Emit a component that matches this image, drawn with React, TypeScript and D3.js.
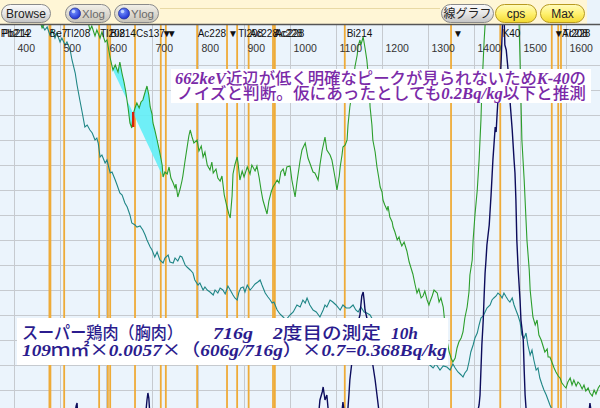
import React from 'react';
import * as d3 from 'd3';

// ---------- data ----------
const energyTicks = [400, 500, 600, 700, 800, 900, 1000, 1100, 1200, 1300, 1400, 1500, 1600];
const gridCounts = [25, 50, 75, 100, 125, 150, 175, 200, 225, 250, 275, 300, 325, 350];

// nuclide marker lines (keV)
const nuclideLineEnergies = [477, 508, 584, 603, 608, 662, 718, 729, 797, 862, 884, 909, 962, 966, 1118, 1349, 1456, 1568, 1582, 1588];
const thickLineEnergies = [477];

// labels in the nuclide row [text, keV]
const peakLabels: [string, number][] = [
  ['Pb214', 368], ['Pb212', 372], ['Be7', 474], ['Tl208', 508], ['Tl208', 584], ['Bi214', 606],
  ['Cs137', 662], ['▼', 718], ['▼', 729], ['Ac228', 796], ['▼', 862], ['Tl208', 884],
  ['Ac228', 909], ['Ac228', 962], ['Ac228', 966], ['Bi214', 1120], ['▼', 1351], ['K40', 1459],
  ['▼', 1570], ['Ac228', 1588], ['Tl208', 1590],
];

// sample spectrum (green) [keV, counts]
const sampleSpectrum: [number, number][] = [
  [451, 400], [460, 387], [468, 393], [477, 405], [555, 403], [560, 393], [564, 385], [568, 389],
  [575, 379], [579, 385], [586, 377], [590, 383], [597, 373], [601, 375], [603, 370], [608, 357],
  [614, 345], [619, 350], [625, 343], [629, 353], [634, 341], [638, 333], [642, 323], [647, 307],
  [651, 292], [655, 287], [658, 301], [662, 307], [666, 312], [671, 307], [675, 313], [679, 315],
  [684, 323], [688, 329], [692, 320], [695, 308], [699, 301], [701, 292], [705, 285], [710, 275],
  [716, 262], [721, 250], [723, 238], [727, 243], [732, 241], [736, 248], [740, 237], [745, 232],
  [749, 227], [751, 231], [755, 218], [760, 226], [764, 234], [766, 239], [771, 255], [775, 267],
  [779, 279], [782, 285], [786, 278], [790, 272], [797, 275], [801, 264], [806, 269], [810, 258],
  [814, 263], [819, 250], [825, 245], [829, 253], [832, 242], [838, 246], [842, 237], [847, 234],
  [851, 239], [856, 220], [862, 208], [866, 201], [869, 197], [873, 219], [875, 241], [879, 250],
  [884, 258], [886, 252], [890, 235], [895, 244], [899, 238], [906, 248], [912, 241], [916, 250],
  [923, 244], [927, 249], [932, 237], [936, 225], [940, 215], [945, 207], [949, 201], [953, 214],
  [958, 223], [962, 228], [966, 231], [971, 235], [975, 232], [979, 243], [984, 246], [988, 239],
  [992, 248], [999, 249], [1003, 235], [1010, 218], [1014, 233], [1021, 255], [1025, 265], [1032, 272],
  [1038, 257], [1042, 252], [1049, 243], [1053, 242], [1060, 235], [1064, 250], [1069, 265], [1075, 278],
  [1079, 265], [1086, 260], [1090, 255], [1097, 237], [1101, 225], [1106, 239], [1108, 248], [1112, 260],
  [1114, 268], [1119, 270], [1123, 275], [1125, 290], [1129, 308], [1134, 323], [1138, 337], [1140, 348],
  [1145, 360], [1147, 369], [1151, 375], [1153, 370], [1158, 378], [1162, 367], [1166, 355], [1171, 330],
  [1173, 308], [1177, 290], [1179, 275], [1184, 263], [1188, 248], [1192, 237], [1195, 228], [1199, 223],
  [1201, 215], [1205, 210], [1210, 205], [1212, 209], [1216, 198], [1221, 193], [1223, 188], [1227, 183],
  [1232, 175], [1236, 178], [1238, 174], [1242, 169], [1247, 173], [1253, 164], [1258, 153], [1262, 147],
  [1266, 141], [1271, 130], [1275, 122], [1279, 126], [1284, 117], [1288, 119], [1292, 124], [1297, 115],
  [1301, 110], [1303, 113], [1308, 119], [1312, 125], [1319, 122], [1323, 113], [1327, 117], [1332, 108],
  [1336, 90], [1340, 75], [1345, 63], [1349, 57], [1353, 53], [1358, 57], [1362, 67], [1366, 73],
  [1371, 77], [1375, 83], [1379, 97], [1384, 108], [1388, 123], [1390, 140], [1395, 155], [1397, 175],
  [1401, 200], [1406, 225], [1410, 255], [1414, 295], [1416, 325], [1419, 355], [1421, 375], [1423, 390],
  [1425, 410], [1495, 410], [1497, 390], [1499, 355], [1501, 315], [1503, 275], [1508, 235], [1512, 195],
  [1514, 175], [1519, 145], [1521, 125], [1525, 107], [1527, 98], [1532, 90], [1536, 95], [1540, 80],
  [1545, 75], [1549, 69], [1553, 63], [1558, 66], [1560, 58], [1564, 58], [1569, 52], [1573, 47],
  [1577, 43], [1582, 39], [1586, 37], [1590, 32], [1595, 29], [1599, 27], [1603, 33], [1608, 37],
  [1612, 30], [1616, 35], [1621, 29], [1625, 33], [1629, 31], [1634, 26], [1638, 30], [1642, 24],
  [1647, 27], [1651, 22], [1656, 19], [1660, 25], [1664, 21], [1669, 27], [1673, 30],
];

// first measurement (teal) [keV, counts]
const firstSpectrum: [number, number][] = [
  [451, 405], [460, 390], [466, 385], [471, 388], [477, 380], [482, 385], [488, 377], [492, 382],
  [499, 373], [503, 377], [510, 370], [514, 373], [521, 365], [525, 355], [532, 342], [536, 330],
  [542, 315], [547, 303], [553, 288], [558, 290], [564, 285], [569, 282], [575, 275], [579, 277],
  [582, 272], [586, 258], [590, 260], [597, 252], [601, 255], [608, 242], [612, 243], [619, 235],
  [623, 230], [629, 222], [634, 220], [640, 212], [645, 208], [651, 200], [655, 192], [662, 190],
  [666, 188], [673, 189], [679, 185], [684, 180], [688, 175], [695, 168], [699, 165], [705, 158],
  [710, 163], [716, 155], [723, 152], [727, 157], [734, 160], [738, 153], [745, 152], [749, 157],
  [755, 154], [760, 159], [764, 158], [771, 150], [775, 148], [782, 145], [788, 142], [792, 135],
  [799, 130], [803, 132], [810, 125], [814, 128], [819, 125], [825, 123], [832, 120], [836, 125],
  [842, 122], [847, 127], [853, 125], [858, 121], [864, 129], [869, 125], [875, 120], [879, 117],
  [884, 115], [888, 123], [892, 127], [897, 128], [901, 123], [906, 130], [912, 125], [916, 127],
  [923, 131], [929, 133], [934, 135], [938, 130], [945, 122], [951, 118], [956, 115], [960, 112],
  [964, 113], [971, 105], [977, 101], [984, 98], [990, 95], [999, 100], [1006, 103], [1014, 110],
  [1021, 108], [1027, 115], [1032, 112], [1036, 117], [1042, 110], [1049, 105], [1056, 103], [1064, 98],
  [1071, 105], [1075, 110], [1079, 108], [1086, 115], [1092, 113], [1099, 110], [1108, 105], [1114, 110],
  [1121, 107], [1129, 107], [1136, 110], [1142, 105], [1147, 103], [1153, 108], [1160, 103], [1166, 102],
  [1173, 100], [1179, 95], [1195, 85], [1216, 70], [1238, 60], [1260, 55], [1284, 55], [1303, 50],
  [1310, 47], [1316, 51], [1325, 45], [1332, 49], [1340, 48], [1347, 45], [1353, 51], [1358, 47],
  [1364, 43], [1371, 40], [1375, 38], [1379, 42], [1384, 45], [1388, 53], [1392, 63], [1397, 70],
  [1401, 77], [1406, 82], [1410, 90], [1414, 97], [1419, 99], [1423, 103], [1427, 107], [1434, 110],
  [1438, 115], [1442, 117], [1447, 119], [1451, 122], [1456, 120], [1460, 117], [1464, 122], [1469, 118],
  [1473, 115], [1477, 113], [1482, 117], [1486, 110], [1490, 105], [1495, 99], [1499, 93], [1503, 80],
  [1508, 77], [1512, 82], [1516, 70], [1521, 60], [1525, 65], [1529, 55], [1534, 45], [1538, 47],
  [1542, 37], [1547, 30], [1551, 25], [1556, 20], [1560, 15], [1564, 10], [1569, 5], [1577, 2], [1673, 2],
];

// difference / background spectrum (navy) [keV, counts]
const netSpectrum: [number, number][] = [
  [451, -5], [529, -5], [534, 9], [536, 12], [538, -5], [684, -5], [688, 15], [690, 22], [692, 17],
  [695, -5], [1060, -5], [1064, 15], [1069, 23], [1071, 28], [1075, 15], [1079, 20], [1084, -5],
  [1110, -5], [1114, 13], [1119, -5], [1123, -5], [1127, 20], [1129, 35], [1134, 55], [1138, 70],
  [1142, 80], [1147, 93], [1151, 100], [1153, 110], [1155, 119], [1158, 123], [1160, 115], [1162, 105],
  [1166, 97], [1171, 80], [1175, 65], [1179, 50], [1184, 35], [1188, 20], [1192, 5], [1195, -5],
  [1403, -5], [1410, 10], [1412, 20], [1414, 45], [1416, 70], [1419, 95], [1421, 120], [1423, 142],
  [1425, 155], [1427, 170], [1432, 190], [1436, 220], [1440, 255], [1445, 288], [1447, 283], [1449, 300],
  [1451, 315], [1456, 335], [1458, 355], [1460, 380], [1462, 405], [1464, 405], [1466, 370], [1469, 365],
  [1471, 355], [1473, 345], [1475, 330], [1477, 315], [1482, 285], [1486, 255], [1488, 242], [1490, 215],
  [1492, 175], [1495, 145], [1499, 115], [1501, 95], [1506, 75], [1508, 45], [1510, 20], [1512, 7],
  [1514, -5], [1647, -5], [1651, 12], [1656, -5], [1673, -5],
];

const roiRange: [number, number] = [614, 723];
const cs137Marker = { energy: 658, low: 288, high: 303 };

const noteLines = [
  '662keV近辺が低く明確なピークが見られないためK-40の',
  'ノイズと判断。仮にあったとしても0.2Bq/kg以下と推測',
];
const titleParts = ['スーパー鶏肉（胸肉）', '716g', '2度目の測定', '10h'];
const formulaLine = '109ｍ㎡×0.0057×（606g/716g）×0.7=0.368Bq/kg';

// ---------- helpers ----------
const W = 600;
const H = 408;
const TOP = 25;

function splitRuns(s: string) {
  const out: { t: string; latin: boolean }[] = [];
  const re = /[\x20-\x7E]+|[^\x20-\x7E]+/g;
  let m: RegExpExecArray | null;
  while ((m = re.exec(s))) out.push({ t: m[0], latin: /^[\x20-\x7E]/.test(m[0]) });
  return out;
}

function MixedText({ x, y, len, size, color, text }: { x: number; y: number; len: number; size: number; color: string; text: string }) {
  return (
    <text x={x} y={y} textLength={len} lengthAdjust="spacingAndGlyphs" fontSize={size} fill={color}>
      {splitRuns(text).map((r, i) => (
        <tspan key={i}
          fontFamily={r.latin ? "'Liberation Serif', 'DejaVu Serif', serif" : "'Noto Sans CJK JP', sans-serif"}
          fontStyle={r.latin ? 'italic' : 'normal'}
          fontWeight={r.latin ? 700 : 500}>{r.t}</tspan>
      ))}
    </text>
  );
}

function Button({ x, w, label, kind }: { x: number; w: number; label: string; kind: 'gray' | 'radio' | 'yellow' }) {
  const fill = kind === 'yellow' ? 'url(#gYellow)' : kind === 'radio' ? 'url(#gRadio)' : 'url(#gGray)';
  const stroke = kind === 'yellow' ? '#b89a20' : '#8a8a8a';
  return (
    <g>
      <rect x={x + 0.5} y={4.5} width={w} height={18} rx={9} fill={fill} stroke={stroke} />
      {kind === 'radio' && (
        <g>
          <circle cx={x + 10} cy={13.5} r={5.5} fill="url(#gBlue)" stroke="#2a3a9a" strokeWidth={0.8} />
          <circle cx={x + 8.5} cy={11.5} r={1.8} fill="#c8d8ff" opacity={0.9} />
        </g>
      )}
      <text x={kind === 'radio' ? x + 17 : x + w / 2 + 0.5} y={18} fontSize={kind === 'radio' ? 11.5 : 12}
        textAnchor={kind === 'radio' ? 'start' : 'middle'}
        fontFamily="'Liberation Sans', Arial, 'Noto Sans CJK JP', sans-serif"
        fill={kind === 'radio' ? '#6a6a6a' : '#222'}>{label}</text>
    </g>
  );
}

export default function App() {
  const x = d3.scaleLinear().domain([400, 1600]).range([14.5, 566.5]);
  const y = d3.scaleLinear().domain([0, 400]).range([415, 15]);

  const line = d3.line<[number, number]>().x(d => x(d[0])).y(d => y(d[1]));

  const roiPts = sampleSpectrum.filter(d => d[0] >= roiRange[0] && d[0] <= roiRange[1]);
  const r0 = roiPts[0];
  const r1 = roiPts[roiPts.length - 1];
  const base = d3.scaleLinear().domain([r0[0], r1[0]]).range([r0[1], r1[1]]);
  const roiArea = d3.area<[number, number]>()
    .x(d => x(d[0]))
    .y0(d => y(base(d[0])))
    .y1(d => y(d[1]));

  return (
    <svg width={W} height={H} style={{ position: 'absolute', left: 0, top: 0, display: 'block' }}
      xmlns="http://www.w3.org/2000/svg">
      <defs>
        <clipPath id="plotClip"><rect x={0} y={TOP} width={W} height={H - TOP} /></clipPath>
        <linearGradient id="gGray" x1="0" y1="0" x2="0" y2="1">
          <stop offset="0" stopColor="#fbfbfb" />
          <stop offset="0.5" stopColor="#e6e6e6" />
          <stop offset="1" stopColor="#c4c4c4" />
        </linearGradient>
        <linearGradient id="gRadio" x1="0" y1="0" x2="0" y2="1">
          <stop offset="0" stopColor="#f2f0ea" />
          <stop offset="0.5" stopColor="#dedad0" />
          <stop offset="1" stopColor="#c8c4b8" />
        </linearGradient>
        <linearGradient id="gYellow" x1="0" y1="0" x2="0" y2="1">
          <stop offset="0" stopColor="#fffcc0" />
          <stop offset="0.5" stopColor="#fff170" />
          <stop offset="1" stopColor="#f2d830" />
        </linearGradient>
        <radialGradient id="gBlue" cx="0.4" cy="0.35" r="0.7">
          <stop offset="0" stopColor="#7a9aff" />
          <stop offset="1" stopColor="#1a2ad0" />
        </radialGradient>
      </defs>

      {/* toolbar */}
      <rect x={0} y={0} width={W} height={TOP} fill="#fff6d6" />
      <rect x={587} y={0} width={13} height={TOP} fill="#eaf3fb" />
      <line x1={160} x2={440} y1={8.5} y2={8.5} stroke="#e8d9a4" />
      <Button x={1} w={49} label="Browse" kind="gray" />
      <Button x={65} w={45} label="Xlog" kind="radio" />
      <Button x={114} w={44} label="Ylog" kind="radio" />
      <Button x={441} w={52} label="線グラフ" kind="gray" />
      <Button x={495} w={41} label="cps" kind="yellow" />
      <Button x={540} w={44} label="Max" kind="yellow" />

      {/* plot background */}
      <rect x={0} y={TOP} width={W} height={H - TOP} fill="#ebf4fc" />
      <g clipPath="url(#plotClip)">
        {energyTicks.map(t => (
          <line key={'gx' + t} x1={x(t)} x2={x(t)} y1={TOP} y2={H} stroke="#c6cacf" strokeWidth={1} />
        ))}
        {gridCounts.map(c => (
          <line key={'gy' + c} x1={0} x2={W} y1={Math.round(y(c)) + 0.5} y2={Math.round(y(c)) + 0.5} stroke="#c6cacf" strokeWidth={1} />
        ))}
        {nuclideLineEnergies.map((e, i) => (
          <line key={'n' + i} x1={x(e)} x2={x(e)} y1={TOP} y2={H}
            stroke="#eeab38" strokeWidth={thickLineEnergies.includes(e) ? 2.8 : 1.8} />
        ))}
        <path d={roiArea(roiPts) || ''} fill="#62eef6" opacity={0.9} />
        <path d={line(firstSpectrum) || ''} fill="none" stroke="#1f8686" strokeWidth={1.1} />
        <path d={line(sampleSpectrum) || ''} fill="none" stroke="#2c9e2c" strokeWidth={1.1} />
        <path d={line(netSpectrum) || ''} fill="none" stroke="#0c0c5c" strokeWidth={1.4} />
        <line x1={x(cs137Marker.energy)} x2={x(cs137Marker.energy)} y1={y(cs137Marker.high)} y2={y(cs137Marker.low)}
          stroke="#d8200c" strokeWidth={2.4} />
      </g>

      {/* nuclide labels */}
      {peakLabels.map(([t, e], i) => (
        <text key={'pl' + i} x={x(e) + 1} y={37} fontSize={10}
          fontFamily="'Liberation Sans', Arial, 'DejaVu Sans', sans-serif" fill="#111">{t}</text>
      ))}
      {/* energy tick labels */}
      {energyTicks.map(t => (
        <text key={'tl' + t} x={x(t) + 3} y={52} fontSize={10.5}
          fontFamily="'Liberation Sans', Arial, sans-serif" fill="#333">{t}</text>
      ))}
      <line x1={0} x2={W} y1={24.5} y2={24.5} stroke="#555" strokeWidth={1.4} />

      {/* note box */}
      <rect x={171} y={69} width={420} height={34} fill="#ffffff" />
      <MixedText x={175} y={84} len={411} size={16} color="#7a2aa8" text={noteLines[0]} />
      <MixedText x={177} y={99} len={409} size={16} color="#7a2aa8" text={noteLines[1]} />

      {/* title box */}
      <rect x={17} y={318} width={431} height={47} fill="#ffffff" />
      <MixedText x={22} y={339} len={161} size={17} color="#2b1c8e" text={titleParts[0]} />
      <MixedText x={213} y={339} len={40} size={17} color="#2b1c8e" text={titleParts[1]} />
      <MixedText x={273} y={339} len={108} size={17} color="#2b1c8e" text={titleParts[2]} />
      <MixedText x={391} y={339} len={27} size={17} color="#2b1c8e" text={titleParts[3]} />
      <MixedText x={22} y={356} len={425} size={17} color="#2b1c8e" text={formulaLine} />
    </svg>
  );
}
